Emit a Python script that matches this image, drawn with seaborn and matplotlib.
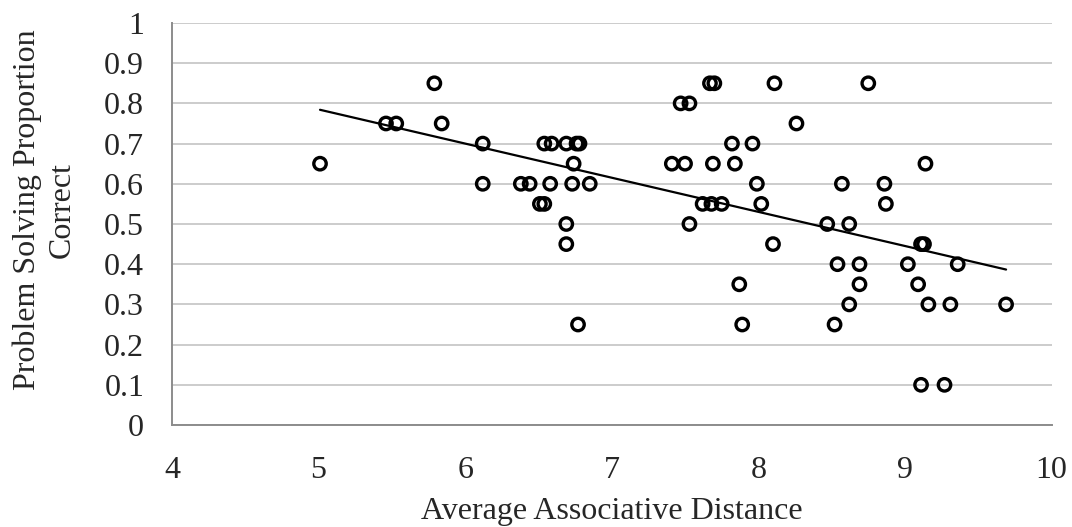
import numpy as np
import pandas as pd
import matplotlib
matplotlib.use("Agg")
import matplotlib.pyplot as plt
import seaborn as sns

# average associative distance per problem
distance = [
    5.01, 5.46, 5.53, 5.79, 5.84, 6.12, 6.12, 6.38, 6.44, 6.51,
    6.54, 6.54, 6.59, 6.58, 6.69, 6.76, 6.78, 6.73, 6.74, 6.69,
    6.69, 6.77, 6.85, 7.41, 7.50, 7.47, 7.53, 7.67, 7.70, 7.82,
    7.96, 7.69, 7.84, 7.99, 7.62, 7.68, 7.75, 8.02, 7.53, 8.10,
    7.87, 7.89, 8.11, 8.26, 8.47, 8.62, 8.57, 8.54, 8.52, 8.62,
    8.75, 9.14, 8.86, 8.87, 9.11, 9.13, 8.69, 9.02, 9.36, 8.69,
    9.09, 9.16, 9.31, 9.69, 9.11, 9.27,
]
# proportion of participants solving each problem
prop_correct = [
    0.65, 0.75, 0.75, 0.85, 0.75, 0.70, 0.60, 0.60, 0.60, 0.55,
    0.55, 0.70, 0.70, 0.60, 0.70, 0.70, 0.70, 0.60, 0.65, 0.50,
    0.45, 0.25, 0.60, 0.65, 0.65, 0.80, 0.80, 0.85, 0.85, 0.70,
    0.70, 0.65, 0.65, 0.60, 0.55, 0.55, 0.55, 0.55, 0.50, 0.45,
    0.35, 0.25, 0.85, 0.75, 0.50, 0.50, 0.60, 0.40, 0.25, 0.30,
    0.85, 0.65, 0.60, 0.55, 0.45, 0.45, 0.40, 0.40, 0.40, 0.35,
    0.35, 0.30, 0.30, 0.30, 0.10, 0.10,
]

x_ticks = [4, 5, 6, 7, 8, 9, 10]
y_ticks = [0, 0.1, 0.2, 0.3, 0.4, 0.5, 0.6, 0.7, 0.8, 0.9, 1]
y_ticklabels = ["0", "0.1", "0.2", "0.3", "0.4", "0.5", "0.6", "0.7", "0.8", "0.9", "1"]

df = pd.DataFrame({"distance": distance, "prop": prop_correct})

sns.set_style("white")
plt.rcParams["font.family"] = ["Liberation Serif", "DejaVu Serif"]

fig = plt.figure(figsize=(10.72, 5.27), dpi=100)
ax = fig.add_axes([0.1604, 0.1935, 0.8205, 0.7629])

sns.regplot(
    data=df,
    x="distance",
    y="prop",
    ci=None,
    truncate=True,
    ax=ax,
    marker="o",
    scatter_kws={"s": 80, "facecolors": "none", "edgecolors": "black",
                 "linewidths": 2.4, "alpha": 1, "zorder": 3},
    line_kws={"color": "black", "linewidth": 1.6, "zorder": 4},
)

ax.set_xlim(4, 10)
ax.set_ylim(0, 1)
ax.set_xticks(x_ticks)
ax.set_yticks(y_ticks)
ax.set_yticklabels(y_ticklabels)
ax.yaxis.grid(True, color="#cccccc", linewidth=1.4)
ax.set_axisbelow(True)
for side in ["top", "right"]:
    ax.spines[side].set_visible(False)
for side in ["left", "bottom"]:
    ax.spines[side].set_color("#8c8c8c")
    ax.spines[side].set_linewidth(1.4)

ax.tick_params(axis="x", length=0, pad=22, labelsize=23)
ax.tick_params(axis="y", length=0, pad=20, labelsize=23)

ax.set_xlabel("Average Associative Distance", fontsize=23, labelpad=9)
ax.set_ylabel("Problem Solving Proportion\nCorrect", fontsize=23,
              linespacing=1.25)
ax.yaxis.set_label_coords(-0.108, 0.535)

fig.savefig("out.png", dpi=100)
plt.close(fig)
